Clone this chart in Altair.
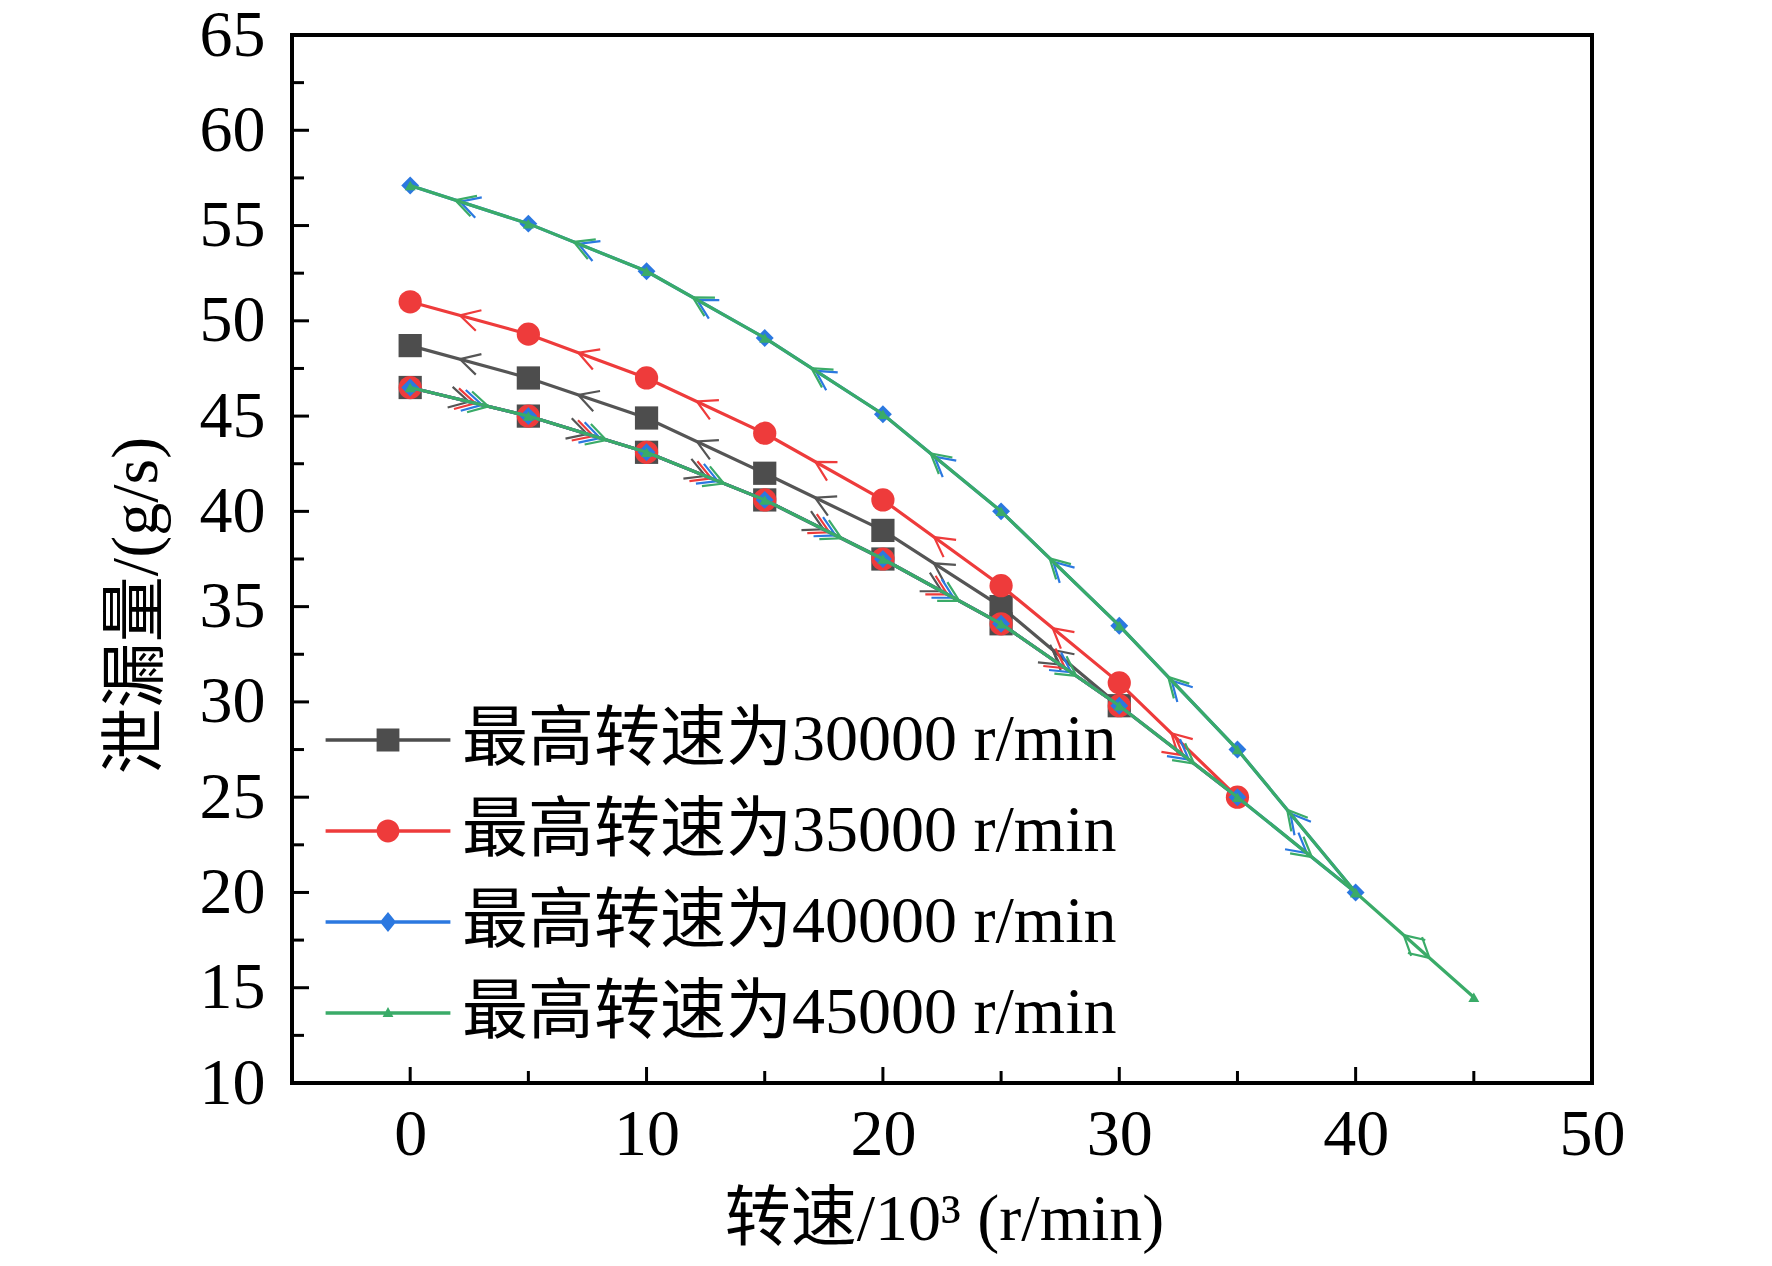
import math
import pandas as pd
import altair as alt

# 转速 (10^3 r/min)
speed = [0, 5, 10, 15, 20, 25, 30, 35, 40, 45]

# 升速段: shared by every series
leak_up = [46.5, 45.0, 43.1, 40.6, 37.5, 34.1, 29.8, 25.0, 20.0, 14.5]

# 降速段 of each series, listed from speed 0 up to (top speed - 5)
leak_down_30 = [48.7, 47.0, 44.9, 42.0, 39.0, 35.0]
leak_down_35 = [51.0, 49.3, 47.0, 44.1, 40.6, 36.1, 31.0]
leak_down_40 = [57.1, 55.1, 52.6, 49.1, 45.1, 40.0, 34.0, 27.5]
leak_down_45 = [57.1, 55.1, 52.6, 49.1, 45.1, 40.0, 34.0, 27.5, 20.0]

series_names = [
    "最高转速为30000 r/min",
    "最高转速为35000 r/min",
    "最高转速为40000 r/min",
    "最高转速为45000 r/min",
]
series_down = [leak_down_30, leak_down_35, leak_down_40, leak_down_45]

x_labels = [0, 10, 20, 30, 40, 50]
x_major_ticks = [0, 10, 20, 30, 40]
x_minor_ticks = [5, 15, 25, 35, 45]
y_labels = [10, 15, 20, 25, 30, 35, 40, 45, 50, 55, 60, 65]
y_major_ticks = [15, 20, 25, 30, 35, 40, 45, 50, 55, 60]
y_minor_ticks = [12.5, 17.5, 22.5, 27.5, 32.5, 37.5, 42.5, 47.5, 52.5, 57.5, 62.5]

FONT = "Liberation Serif, Noto Sans CJK SC"
W, H = 1300, 1048
X_DOM = [-5, 50]
Y_DOM = [10, 65]
PX_X = W / (X_DOM[1] - X_DOM[0])
PX_Y = H / (Y_DOM[1] - Y_DOM[0])

colors = ["#4d4d4d", "#ee3b3b", "#2b78e0", "#3aab68"]
line_colors = ["#555555", "#ee3b3b", "#2b78e0", "#3aab68"]
shapes = ["square", "circle", "diamond", "triangle-up"]
sizes = [540, 540, 320, 120]
up_offset = [-10, -3.5, 3.5, 10]   # arrows of the shared curve sit side by side
down_offset = [0, 0, 0, 5]

# open arrow head "<", rotated per segment
chevron = "M0.5,-0.55 L-0.5,0 L0.5,0.55"

# legend symbols: line with marker on it
bar = "M-2.08,-0.06 L2.08,-0.06 L2.08,0.06 L-2.08,0.06 Z "
r = 0.38
legend_paths = [
    bar + f"M-{r},-{r} L{r},-{r} L{r},{r} L-{r},{r} Z",
    bar + f"M-{r},0 A{r},{r} 0 1 1 {r},0 A{r},{r} 0 1 1 -{r},0 Z",
    bar + "M0,-0.33 L0.27,0 L0,0.33 L-0.27,0 Z",
    bar + "M0,-0.2 L0.18,0.13 L-0.18,0.13 Z",
]

x_scale = alt.Scale(domain=X_DOM, nice=False, zero=False)
y_scale = alt.Scale(domain=Y_DOM, nice=False, zero=False)

x_axis = alt.Axis(
    values=x_labels, format="d", title="转速/10³ (r/min)",
    ticks=False, tickSize=0, domain=False, grid=False, labelFlush=False,
    labelFont=FONT, labelFontSize=66, labelColor="black", labelPadding=19,
    titleFont=FONT, titleFontSize=66, titleFontWeight="normal", titleColor="black",
    titleX=652, titleY=136, titleBaseline="middle",
)
y_axis = alt.Axis(
    values=y_labels, format="d", title="泄漏量/(g/s)",
    ticks=False, tickSize=0, domain=False, grid=False,
    labelFont=FONT, labelFontSize=66, labelColor="black", labelPadding=27,
    titleFont=FONT, titleFontSize=66, titleFontWeight="normal", titleColor="black",
    titleX=-156, titleY=570, titleAngle=270, titleAlign="center", titleBaseline="middle",
)
X = alt.X("x:Q", scale=x_scale, axis=x_axis)
Y = alt.Y("y:Q", scale=y_scale, axis=y_axis)

layers = []

# inward ticks
for vals, length in [(x_major_ticks, 16), (x_minor_ticks, 12)]:
    layers.append(
        alt.Chart(pd.DataFrame({"x": vals}))
        .mark_rule(color="black", strokeWidth=3)
        .encode(x=X, y=alt.value(H), y2=alt.value(H - length))
    )
for vals, length in [(y_major_ticks, 17), (y_minor_ticks, 12)]:
    layers.append(
        alt.Chart(pd.DataFrame({"y": vals}))
        .mark_rule(color="black", strokeWidth=3)
        .encode(y=Y, x=alt.value(0), x2=alt.value(length))
    )

for s, down in enumerate(series_down):
    n_up = len(down) + 1
    xs = speed[:n_up] + speed[: len(down)][::-1]
    ys = leak_up[:n_up] + down[::-1]
    path = pd.DataFrame({"x": xs, "y": ys, "i": range(len(xs))})

    rows = []
    for k in range(len(xs) - 1):
        dx = (xs[k + 1] - xs[k]) * PX_X
        dy = -(ys[k + 1] - ys[k]) * PX_Y
        length = math.hypot(dx, dy)
        theta = math.degrees(math.atan2(dy, dx))
        off = up_offset[s] if k < n_up - 1 else down_offset[s]
        rows.append({
            "x": (xs[k] + xs[k + 1]) / 2 + off * dx / length / PX_X,
            "y": (ys[k] + ys[k + 1]) / 2 - off * dy / length / PX_Y,
            "angle": (theta - 180) % 360,
        })
    arrows = pd.DataFrame(rows)

    layers.append(
        alt.Chart(path).mark_line(color=line_colors[s], strokeWidth=3.2)
        .encode(x=X, y=Y, order="i:Q")
    )
    layers.append(
        alt.Chart(arrows)
        .mark_point(shape=chevron, size=1500, filled=False, color=line_colors[s],
                    strokeWidth=2.2, opacity=1)
        .encode(x=X, y=Y, angle=alt.Angle("angle:Q", scale=None))
    )
    layers.append(
        alt.Chart(path)
        .mark_point(shape=shapes[s], size=sizes[s], filled=True, color=colors[s],
                    opacity=1, strokeWidth=0)
        .encode(x=X, y=Y)
    )

legend = alt.Legend(
    title=None, orient="none", legendX=63, legendY=672, padding=0,
    symbolSize=3600, symbolOpacity=1, symbolStrokeWidth=0,
    labelFont=FONT, labelFontSize=66, labelColor="black", labelOffset=41,
    labelLimit=1000, rowPadding=25,
)
layers.append(
    alt.Chart(pd.DataFrame({"series": series_names}))
    .mark_point(filled=True, opacity=0)
    .encode(
        x=alt.value(0),
        y=alt.value(0),
        color=alt.Color("series:N", scale=alt.Scale(domain=series_names, range=colors), legend=legend),
        shape=alt.Shape("series:N", scale=alt.Scale(domain=series_names, range=legend_paths), legend=legend),
    )
)

chart = (
    alt.layer(*layers)
    .properties(
        width=W,
        height=H,
        autosize=alt.AutoSizeParams(type="none"),
        padding={"left": 284, "top": 27, "right": 160, "bottom": 175},
        background="white",
    )
    .configure_view(stroke="black", strokeWidth=4)
)

chart.save("out.html", embed_options={"renderer": "svg", "actions": False})
